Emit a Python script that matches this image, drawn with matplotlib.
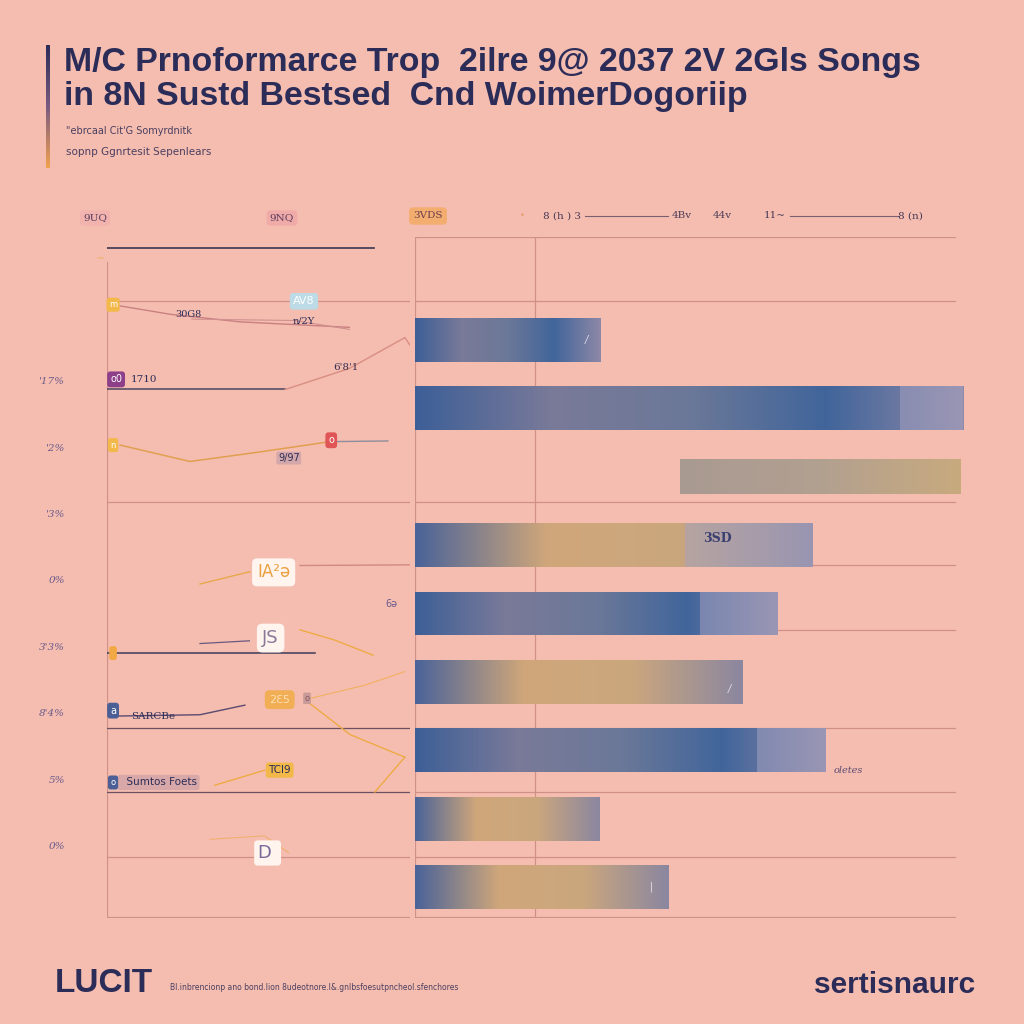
import numpy as np
import matplotlib
matplotlib.use("Agg")
import matplotlib.pyplot as plt
from matplotlib.colors import LinearSegmentedColormap
from matplotlib.patches import Rectangle

# ---------------- data ----------------
title_lines = ["M/C Prnoformarce Trop  2ilre 9@ 2037 2V 2Gls Songs",
               "in 8N Sustd Bestsed  Cnd WoimerDogoriip"]
subtitle_lines = ["\"ebrcaal Cit'G Somyrdnitk", "sopnp Ggnrtesit Sepenlears"]
header_labels = ["9UQ", "9NQ", "3VDS"]
scale_labels = ["8 (h ) 3", "4Bv", "44v", "11~", "8 (n)"]
row_labels = ["'17%", "'2%", "'3%", "0%", "3'3%", "8'4%", "5%", "0%"]

bar_start = [0, 0, 49.1, 0, 0, 0, 0, 0, 0]
bar_end = [34.3, 101.5, 101.1, 73.7, 67.2, 60.7, 76.1, 34.1, 46.9]
bar_overlay = [None, 89.8, None, 50.0, 52.8, None, 63.3, None, None]
bar_style = ["blue", "blue", "sand", "gold", "blue", "gold", "blue", "gold", "gold"]
bar_notes = ["/", "", "", "3SD", "", "/", "oletes", "", "|"]

# left panel series (x value, row position)
series_a_x = [2, 21, 44, 80];        series_a_y = [-0.51, -0.37, -0.26, -0.18]
series_b_x = [0, 58.7];              series_b_y = [0.72, 0.72]
series_b2_x = [58.7, 80, 98.3, 100]; series_b2_y = [0.73, 0.42, -0.03, 0.08]
series_c_x = [4.3, 27.4, 50.5, 73.6]; series_c_y = [1.54, 1.78, 1.64, 1.49]
series_c2_x = [73.6, 92.7];          series_c2_y = [1.49, 1.48]
series_d_x = [30.7, 47.2];           series_d_y = [3.57, 3.39]
series_d2_x = [63.7, 100];           series_d2_y = [3.30, 3.29]
series_e_x = [0, 68.6];              series_e_y = [4.58, 4.58]
series_e2_x = [30.7, 47];            series_e2_y = [4.44, 4.40]
series_e3_x = [63.7, 75.2, 87.8];    series_e3_y = [4.24, 4.39, 4.61]
series_f_x = [2.6, 30.7, 45.5];      series_f_y = [5.50, 5.48, 5.34]
series_f2_x = [65.3, 80.2, 98.3];    series_f2_y = [5.26, 5.77, 6.10]
series_f3_x = [65.3, 85, 98.3];      series_f3_y = [5.26, 5.05, 4.85]
series_g_x = [35.6, 52.1];           series_g_y = [6.51, 6.29]
series_g2_x = [98.3, 88.4];          series_g2_y = [6.10, 6.61]
series_h_x = [34, 52, 60];           series_h_y = [7.30, 7.25, 7.50]

# ---------------- style ----------------
BG = "#f5bdb0"
NAVY = "#2b2d58"
GRID = "#cf9088"
cmaps = {
    "blue": LinearSegmentedColormap.from_list("blue", ["#3d5f97", "#7a7a99", "#6b7898", "#41659b", "#8d88a6"]),
    "gold": LinearSegmentedColormap.from_list("gold", ["#4a6399", "#d0a77a", "#caa67e", "#8b87a0"]),
    "sand": LinearSegmentedColormap.from_list("sand", ["#a99a92", "#b2a090", "#c8aa7e"]),
}

fig = plt.figure(figsize=(10.24, 10.24), dpi=100, facecolor=BG)


def fx(px):
    return px / 1024.0


def fy(py):
    return 1 - py / 1024.0


# ---------------- title block ----------------
acc = fig.add_axes([fx(46), fy(168), fx(4), fx(168 - 45)])
acc.imshow(np.linspace(0, 1, 100).reshape(-1, 1), aspect="auto",
           cmap=LinearSegmentedColormap.from_list("acc", ["#2b2d58", "#7a5a80", "#f0a050"]))
acc.axis("off")

fig.text(fx(64), fy(62), title_lines[0], fontsize=24.4, fontweight="bold",
         color=NAVY, family="Liberation Sans", va="center", ha="left")
fig.text(fx(64), fy(97), title_lines[1], fontsize=24.4, fontweight="bold",
         color=NAVY, family="Liberation Sans", va="center", ha="left")
fig.text(fx(66), fy(131), subtitle_lines[0], fontsize=7, color="#4a3f60",
         family="Liberation Sans Narrow", va="center")
fig.text(fx(66), fy(152), subtitle_lines[1], fontsize=7.5, color="#4a3f60",
         family="Liberation Sans Narrow", va="center")

# header row
fig.text(fx(95), fy(218), header_labels[0], fontsize=7.5, color="#5a3f60", ha="center", va="center",
         family="DejaVu Serif", bbox=dict(boxstyle="round,pad=0.3", fc="#f2b2ad", ec="none"))
fig.text(fx(282), fy(218), header_labels[1], fontsize=7.5, color="#5a3f60", ha="center", va="center",
         family="DejaVu Serif", bbox=dict(boxstyle="round,pad=0.3", fc="#f0aaa8", ec="none"))
fig.text(fx(428), fy(216), header_labels[2], fontsize=7.5, color="#6a3f50", ha="center", va="center",
         family="DejaVu Serif", bbox=dict(boxstyle="round,pad=0.4", fc="#f3ad6e", ec="none"))
fig.text(fx(522), fy(216), "•", fontsize=6, color="#e69a70", ha="center", va="center")
fig.add_artist(plt.Line2D([fx(585), fx(668)], [fy(216), fy(216)], color="#7a6070", lw=0.8))
fig.add_artist(plt.Line2D([fx(790), fx(898)], [fy(216), fy(216)], color="#7a6070", lw=0.8))
for lab, px in zip(scale_labels, [562, 682, 722, 775, 910]):
    fig.text(fx(px), fy(216), lab, fontsize=7.5, color="#4a3a55", ha="center", va="center",
             family="DejaVu Serif")

# ---------------- right panel: bars ----------------
ylim = (8.45, -1.5)
axr = fig.add_axes([fx(415), fy(918), fx(965 - 415), fx(918 - 237)])
axr.set_facecolor("none")
xmax = 550 / 5.4
axr.set_xlim(0, xmax)
axr.set_ylim(*ylim)
for s in axr.spines.values():
    s.set_visible(False)
axr.set_xticks([]); axr.set_yticks([])

for yv in [-1.5, -0.56, 2.37, 3.29, 4.24, 5.67, 6.61, 7.56, 8.44]:
    axr.plot([0, 100], [yv, yv], color=GRID, lw=0.9, zorder=1)
axr.plot([0, 0], [-1.5, 8.45], color=GRID, lw=0.9, zorder=1)
axr.plot([22.2, 22.2], [-1.5, 8.45], color=GRID, lw=0.9, zorder=1)

h = 0.64
grad = np.linspace(0, 1, 256).reshape(1, -1)
for i, (s, e, st) in enumerate(zip(bar_start, bar_end, bar_style)):
    hh = 0.5 if st == "sand" else h
    y0 = i - hh / 2
    rect = Rectangle((s, y0), e - s, hh, facecolor="none", edgecolor="none")
    axr.add_patch(rect)
    im = axr.imshow(grad, extent=[s, e, y0 + hh, y0], aspect="auto",
                    cmap=cmaps[st], zorder=2)
    im.set_clip_path(rect)
    ov = bar_overlay[i]
    if ov is not None:
        axr.add_patch(Rectangle((ov, y0), e - ov, hh, facecolor="#a7a3c2",
                                alpha=0.5, edgecolor="none", zorder=3))
axr.set_xlim(0, xmax)
axr.set_ylim(*ylim)

axr.text(31.5, 0, bar_notes[0], fontsize=7, color="#e0e0ee", va="center", style="italic")
axr.text(56, 2.9, bar_notes[3], fontsize=9, color="#3a3f70", va="center", ha="center",
         fontweight="bold", family="DejaVu Serif")
axr.text(58, 5.1, bar_notes[5], fontsize=7, color="#e0e0ee", va="center", style="italic")
axr.text(77.5, 6.3, bar_notes[6], fontsize=7, color="#5a4a70", va="center",
         family="DejaVu Serif", style="italic")
axr.text(43.5, 8.0, bar_notes[8], fontsize=7, color="#e8e8f0", va="center")

# ---------------- left panel: lines ----------------
axl = fig.add_axes([fx(107), fy(918), fx(410 - 107), fx(918 - 237)])
axl.set_facecolor("none")
axl.set_xlim(0, 100)
axl.set_ylim(*ylim)
for s in axl.spines.values():
    s.set_visible(False)
axl.set_xticks([])
axl.set_yticks(0.6 + 0.97 * np.arange(len(row_labels)))
axl.set_yticklabels(row_labels, fontsize=7.5, color="#6a5a8a", family="DejaVu Serif",
                    style="italic")
axl.tick_params(axis="y", length=0, pad=30)

axl.plot([0, 0], [-1.14, 8.45], color=GRID, lw=0.9)
axl.plot([0, 100], [8.44, 8.44], color=GRID, lw=0.9)
axl.plot([0, 88], [-1.345, -1.345], color="#3a3550", lw=1.2)
for yv, c, x1 in [(-0.56, GRID, 100), (2.37, GRID, 100), (5.67, "#6a5060", 100),
                  (6.61, "#6a5060", 100), (7.56, GRID, 100)]:
    axl.plot([0, x1], [yv, yv], color=c, lw=0.9)
axl.text(-2, -1.18, "~", fontsize=8, color="#f0b060", ha="center", va="center")

axl.plot(series_a_x, series_a_y, color="#c98080", lw=1)
axl.plot([28, 62, 80], [-0.3, -0.28, -0.15], color="#d09090", lw=0.8)
axl.plot(series_b_x, series_b_y, color="#4a4560", lw=1.1)
axl.plot(series_b2_x, series_b2_y, color="#d88e80", lw=1)
axl.plot(series_c_x, series_c_y, color="#e0a050", lw=1.1)
axl.plot(series_c2_x, series_c2_y, color="#8d8d9d", lw=1)
axl.plot(series_d_x, series_d_y, color="#e8a84a", lw=1)
axl.plot(series_d2_x, series_d2_y, color="#d08a80", lw=1)
axl.plot(series_e_x, series_e_y, color="#3d3d5c", lw=1.1)
axl.plot(series_e2_x, series_e2_y, color="#6a5a80", lw=0.9)
axl.plot(series_e3_x, series_e3_y, color="#eeaa44", lw=1)
axl.plot(series_f_x, series_f_y, color="#5a4a70", lw=1)
axl.plot(series_f2_x, series_f2_y, color="#eeaa44", lw=1)
axl.plot(series_f3_x, series_f3_y, color="#f0b060", lw=0.8)
axl.plot(series_g_x, series_g_y, color="#eeaa44", lw=1)
axl.plot(series_g2_x, series_g2_y, color="#eeaa44", lw=1)
axl.plot(series_h_x, series_h_y, color="#f0b070", lw=0.8)

# markers / boxes
def box(x, y, txt, fc, tc, fs=7, pad=0.3, **kw):
    axl.text(x, y, txt, fontsize=fs, color=tc, ha="center", va="center", zorder=5,
             bbox=dict(boxstyle=f"round,pad={pad}", fc=fc, ec="none"), **kw)

box(2, -0.51, "m", "#f2b84a", "#ffffff", fs=6)
box(65, -0.56, "AV8", "#bcdbe6", "#ffffff", fs=8)
axl.text(27, -0.37, "30G8", fontsize=7, color="#2b2d58", ha="center", va="center", family="DejaVu Serif")
axl.text(65, -0.27, "n/2Y", fontsize=7, color="#2b2d58", ha="center", va="center", family="DejaVu Serif")
box(3, 0.58, "o0", "#8e3f8a", "#ffffff", fs=7)
axl.text(8, 0.58, "1710", fontsize=7.5, color="#2b2d58", ha="left", va="center", family="DejaVu Serif")
axl.text(79, 0.41, "6'8'1", fontsize=7.5, color="#3a3050", ha="center", va="center", family="DejaVu Serif")
box(2, 1.54, "n", "#f2b84a", "#ffffff", fs=6)
box(74, 1.47, "o", "#e05555", "#ffffff", fs=7)
box(60, 1.73, "9/97", "#d4a8aa", "#2b2d58", fs=7, pad=0.15)
box(55, 3.40, "IA²ə", "#fff4ee", "#eaa040", fs=12, pad=0.3)
axl.text(94, 3.86, "6ə", fontsize=7, color="#6a5a8a", ha="center", va="center")
box(2, 4.58, " ", "#f2a845", "#ffffff", fs=6)
box(54, 4.36, "JS", "#fff4ee", "#8a7a9a", fs=13, pad=0.3)
box(2, 5.42, "a", "#4a5f95", "#ffffff", fs=7)
axl.text(8, 5.50, "SARCBe", fontsize=7.5, color="#2b2d58", ha="left", va="center", family="DejaVu Serif")
box(57, 5.26, "2Ɛ5", "#f2ae55", "#fde0b0", fs=8, pad=0.4)
box(66, 5.24, "o", "#c89a98", "#8a5a60", fs=6, pad=0.15)
box(17, 6.47, "  Sumtos Foets", "#d8a8a8", "#2b2d58", fs=7.5, pad=0.25)
box(2, 6.47, "o", "#4a5f95", "#ffffff", fs=6)
box(57, 6.29, "TCI9", "#f2b84a", "#2b2d58", fs=7.5, pad=0.25)
box(53, 7.50, "D ", "#fff4ee", "#7a6a9a", fs=13, pad=0.2)

# ---------------- footer ----------------
fig.text(fx(55), fy(983), "LUCIT", fontsize=24, fontweight="bold", color=NAVY,
         family="Liberation Sans", va="center")
fig.text(fx(170), fy(987), "Bl.inbrencionp ano bond.lion 8udeotnore.l&.gnlbsfoesutpncheol.sfenchores",
         fontsize=5.5, color="#4a3f60", va="center", family="Liberation Sans Narrow")
fig.text(fx(975), fy(985), "sertisnaurc", fontsize=21.5, fontweight="bold", color=NAVY,
         family="Liberation Sans", va="center", ha="right")

fig.savefig("out.png", dpi=100, facecolor=BG)
